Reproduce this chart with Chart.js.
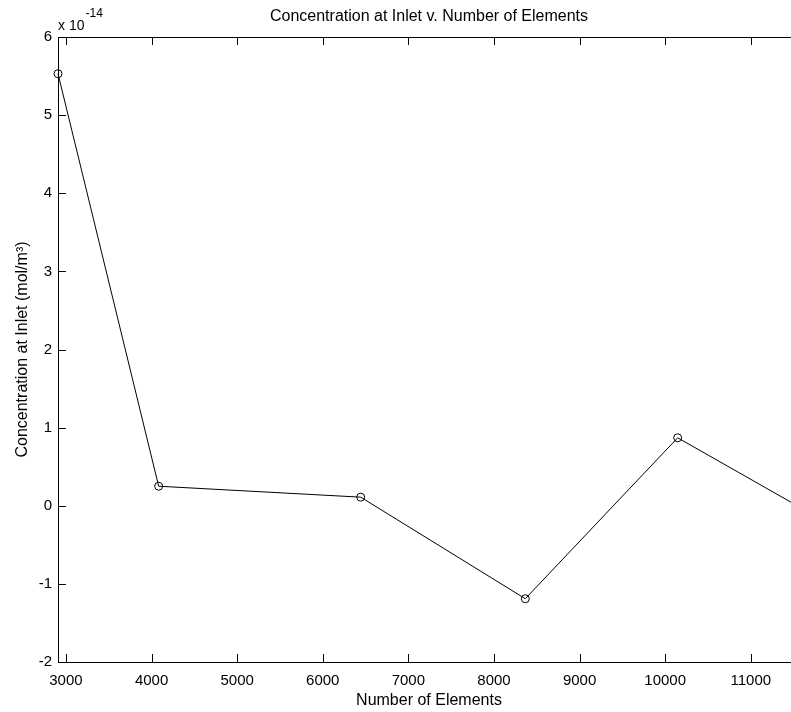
<!DOCTYPE html>
<html>
<head>
<meta charset="utf-8">
<script src="https://cdn.jsdelivr.net/npm/chart.js@4"></script>
<style>
  html, body { margin: 0; padding: 0; background: #fff; overflow: hidden; }
  #wrap { width: 812px; height: 712px; }
</style>
</head>
<body>
<div id="wrap"><canvas id="grafico"></canvas></div>
<script>
// data (concentration in units of 1e-14 mol/m^3)
const elementos = [2907, 4083, 6443, 8366, 10146, 11575];
const concentracao = [5.53, 0.25, 0.11, -1.19, 0.87, -0.02];
const ticksX = [3000, 4000, 5000, 6000, 7000, 8000, 9000, 10000, 11000];
const ticksY = [-2, -1, 0, 1, 2, 3, 4, 5, 6];
const expoente = "-14";

const fonte = "Arial, 'Liberation Sans', Helvetica, sans-serif";

// moldura estilo matlab, ticks para dentro
const moldura = {
  id: "moldura",
  afterDraw(chart) {
    const { ctx, chartArea: a, scales } = chart;
    ctx.save();
    ctx.strokeStyle = "#000";
    ctx.lineWidth = 1;
    ctx.strokeRect(a.left + 0.5, a.top + 0.5, a.right - a.left, a.bottom - a.top);
    ctx.beginPath();
    ticksX.forEach(v => {
      const x = Math.round(scales.x.getPixelForValue(v)) + 0.5;
      ctx.moveTo(x, a.bottom); ctx.lineTo(x, a.bottom - 8);
      ctx.moveTo(x, a.top); ctx.lineTo(x, a.top + 8);
    });
    ticksY.forEach(v => {
      const y = Math.round(scales.y.getPixelForValue(v)) + 0.5;
      ctx.moveTo(a.left, y); ctx.lineTo(a.left + 8, y);
      ctx.moveTo(a.right, y); ctx.lineTo(a.right - 8, y);
    });
    ctx.stroke();

    // x 10^-14
    ctx.fillStyle = "#000";
    ctx.textBaseline = "alphabetic";
    ctx.textAlign = "left";
    ctx.font = "14px " + fonte;
    ctx.fillText("x 10", a.left, a.top - 7);
    const w = ctx.measureText("x 10").width;
    ctx.font = "12px " + fonte;
    ctx.fillText(expoente, a.left + w + 1, a.top - 20);
    ctx.restore();
  }
};

new Chart(document.getElementById("grafico"), {
  type: "scatter",
  data: {
    datasets: [{
      data: elementos.map((x, i) => ({ x: x, y: concentracao[i] })),
      showLine: true,
      clip: false,
      borderColor: "#000",
      borderWidth: 1,
      pointRadius: 4,
      pointHoverRadius: 4,
      pointBorderWidth: 1,
      pointBorderColor: "#000",
      pointBackgroundColor: "rgba(0,0,0,0)",
      tension: 0
    }]
  },
  options: {
    responsive: true,
    maintainAspectRatio: false,
    animation: false,
    layout: { padding: { left: 0, right: 12, top: 0, bottom: 0 } },
    plugins: {
      legend: { display: false },
      tooltip: { enabled: false },
      title: {
        display: true,
        fullSize: false,
        text: "Concentration at Inlet v. Number of Elements",
        color: "#000",
        font: { family: fonte, size: 16, weight: "normal", lineHeight: 1.2 },
        padding: { top: 7, bottom: 10.8 }
      }
    },
    scales: {
      x: {
        type: "linear",
        min: elementos[0],
        max: elementos[elementos.length - 1],
        afterBuildTicks: s => { s.ticks = ticksX.map(v => ({ value: v })); },
        afterFit: s => { s.height = 50; },
        grid: { display: false, drawTicks: false },
        border: { display: false },
        ticks: {
          color: "#000",
          padding: 10,
          maxRotation: 0,
          autoSkip: false,
          font: { family: fonte, size: 15 },
          callback: v => String(v)
        },
        title: {
          display: true,
          text: "Number of Elements",
          color: "#000",
          font: { family: fonte, size: 16 },
          padding: { top: 0, bottom: 1.5 }
        }
      },
      y: {
        min: ticksY[0],
        max: ticksY[ticksY.length - 1],
        afterBuildTicks: s => { s.ticks = ticksY.map(v => ({ value: v })); },
        afterFit: s => { s.width = 58; },
        grid: { display: false, drawTicks: false },
        border: { display: false },
        ticks: {
          color: "#000",
          padding: 6,
          font: { family: fonte, size: 15 },
          callback: v => String(v)
        },
        title: {
          display: true,
          text: "Concentration at Inlet (mol/m³)",
          color: "#000",
          font: { family: fonte, size: 16 },
          padding: { top: 13, bottom: 0 }
        }
      }
    }
  },
  plugins: [moldura]
});
</script>
</body>
</html>
